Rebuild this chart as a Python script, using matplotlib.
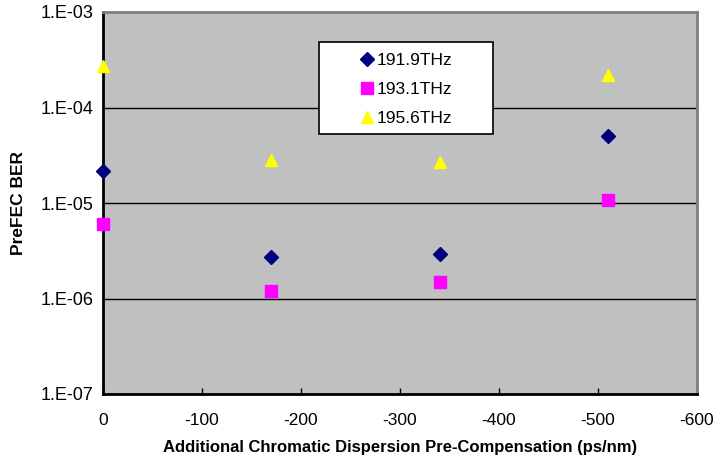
import matplotlib
matplotlib.use('Agg')
import matplotlib.pyplot as plt
from matplotlib.patches import Rectangle

# Pre-compensation values (ps/nm) and pre-FEC BER per channel
dispersion = [0, -170, -340, -510]
ber_1919 = [2.15e-5, 2.7e-6, 2.95e-6, 5.0e-5]
ber_1931 = [6.1e-6, 1.2e-6, 1.5e-6, 1.07e-5]
ber_1956 = [2.7e-4, 2.8e-5, 2.7e-5, 2.2e-4]
series_labels = ['191.9THz', '193.1THz', '195.6THz']
x_ticks = [0, -100, -200, -300, -400, -500, -600]
y_ticks = [1e-7, 1e-6, 1e-5, 1e-4, 1e-3]
y_tick_labels = ['1.E-07', '1.E-06', '1.E-05', '1.E-04', '1.E-03']

plt.rcParams['font.family'] = ['Liberation Sans', 'DejaVu Sans']

fig = plt.figure(figsize=(7.16, 4.62), dpi=100)
ax = fig.add_axes([103 / 716, 1 - 394 / 462, 594 / 716, 382 / 462])
ax.set_facecolor('#C0C0C0')

ax.plot(dispersion, ber_1919, linestyle='none', marker='D', markersize=7,
        color='#000080', label=series_labels[0], clip_on=False, zorder=3)
ax.plot(dispersion, ber_1931, linestyle='none', marker='s', markersize=8.5,
        color='#FF00FF', label=series_labels[1], clip_on=False, zorder=3)
ax.plot(dispersion, ber_1956, linestyle='none', marker='^', markersize=8.5,
        color='#FFFF00', label=series_labels[2], clip_on=False, zorder=3)

ax.set_yscale('log')
ax.set_ylim(1e-7, 1e-3)
ax.set_xlim(0, -600)
ax.set_xticks(x_ticks)
ax.set_xticklabels([str(v) for v in x_ticks], fontsize=12.5)
ax.set_yticks(y_ticks)
ax.set_yticklabels(y_tick_labels, fontsize=13)
ax.yaxis.set_minor_locator(matplotlib.ticker.NullLocator())
ax.tick_params(axis='x', direction='in', length=4, width=1, pad=14, color='black')
ax.tick_params(axis='y', length=0, pad=7)
ax.grid(True, axis='y', color='black', linewidth=1)
ax.set_axisbelow(True)

for side in ['left', 'bottom']:
    ax.spines[side].set_color('black')
    ax.spines[side].set_linewidth(2)
for side in ['top', 'right']:
    ax.spines[side].set_color('#808080')
    ax.spines[side].set_linewidth(2)

ax.set_xlabel('Additional Chromatic Dispersion Pre-Compensation (ps/nm)',
              fontsize=12, fontweight='bold', labelpad=8)
ax.set_ylabel('PreFEC BER', fontsize=12.5, fontweight='bold', labelpad=10)

# legend box drawn as a white rectangle, entries centred inside it
box_x, box_y, box_w, box_h = 216 / 594, 1 - 122 / 382, 174 / 594, 92 / 382
ax.add_patch(Rectangle((box_x, box_y), box_w, box_h, transform=ax.transAxes,
                       facecolor='white', edgecolor='black', linewidth=1.2, zorder=4))
leg = ax.legend(loc='center', bbox_to_anchor=(box_x + box_w / 2 - 0.001, box_y + box_h / 2 - 0.004),
                frameon=False, fontsize=12.5, handlelength=1, handletextpad=0.05,
                labelspacing=0.82, borderpad=0, borderaxespad=0)
leg.set_zorder(5)

fig.savefig('out.png', dpi=100)
